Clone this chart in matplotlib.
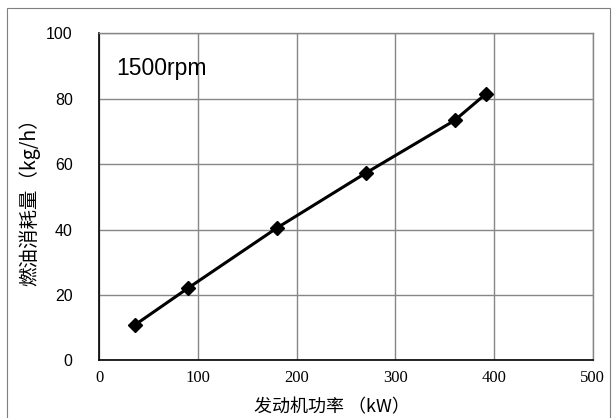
import matplotlib.pyplot as plt
from matplotlib.patches import Rectangle

power = [36, 90, 180, 270, 360, 392]
fuel = [10.8, 22.1, 40.5, 57.3, 73.4, 81.6]
x_ticks = [0, 100, 200, 300, 400, 500]
y_ticks = [0, 20, 40, 60, 80, 100]

cjk = ['Noto Sans CJK SC', 'DejaVu Sans']
plt.rcParams['font.serif'] = ['Liberation Serif', 'DejaVu Serif']

fig = plt.figure(figsize=(6.15, 4.18), dpi=100)
fig.patches.append(Rectangle((0.012, -0.05), 0.98, 1.031, transform=fig.transFigure,
                             fill=False, edgecolor='#7f7f7f', linewidth=0.8))
ax = fig.add_axes([0.161, 0.1376, 0.803, 0.7824])

ax.plot(power, fuel, color='black', linewidth=2.2, marker='D', markersize=7,
        zorder=3, clip_on=False)

ax.set_xlim(0, 500)
ax.set_ylim(0, 100)
ax.set_xticks(x_ticks)
ax.set_yticks(y_ticks)
ax.set_xticklabels([str(v) for v in x_ticks], family='serif', fontsize=12)
ax.set_yticklabels([str(v) for v in y_ticks], family='Liberation Sans', fontsize=11.5)
ax.tick_params(axis='x', length=0, pad=7)
ax.tick_params(axis='y', length=0, pad=19)

ax.grid(True, color='#868686', linewidth=1.0)
ax.set_axisbelow(True)
for side in ['top', 'right']:
    ax.spines[side].set_color('#868686')
    ax.spines[side].set_linewidth(1.0)
for side in ['left', 'bottom']:
    ax.spines[side].set_color('black')
    ax.spines[side].set_linewidth(1.2)

ax.set_xlabel('发动机功率 （kW）', family=cjk, fontsize=13, labelpad=0)
ax.xaxis.set_label_coords(0.472, -0.115)
ax.set_ylabel('燃油消耗量（kg/h）', family=cjk, fontsize=14, labelpad=4)

ax.text(0.035, 0.893, '1500rpm', transform=ax.transAxes, family='Liberation Sans',
        fontsize=16.5, va='center', ha='left')

fig.savefig('out.png', dpi=100)
